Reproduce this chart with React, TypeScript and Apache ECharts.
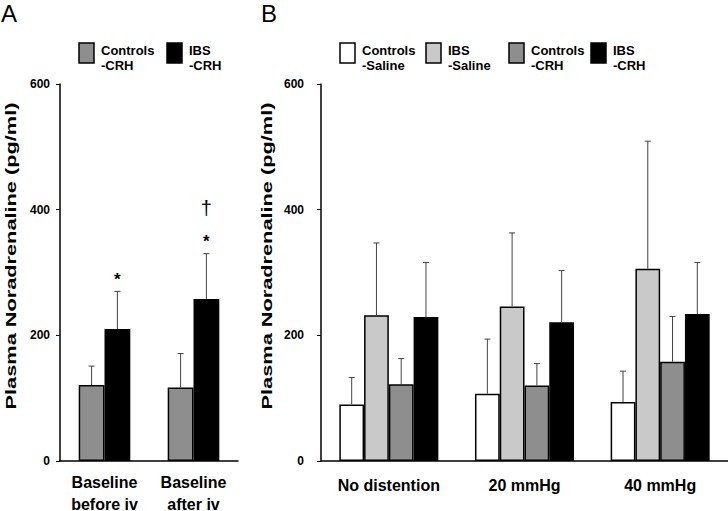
import React, { useEffect, useRef } from "react";
import * as echarts from "echarts";

// ---------- data ----------
const categoriesA = ["Baseline\nbefore iv", "Baseline\nafter iv"];
const controlsCrhA = [121, 117];
const controlsCrhAErr = [30, 54];
const ibsCrhA = [210, 258];
const ibsCrhAErr = [60, 72];
const starA = ["*", "*"];
const daggerA = ["", "†"];

const categoriesB = ["No distention", "20 mmHg", "40 mmHg"];
const controlsSalineB = [90, 107, 94];
const controlsSalineBErr = [43, 87, 49];
const ibsSalineB = [232, 246, 306];
const ibsSalineBErr = [115, 117, 203];
const controlsCrhB = [122, 120, 158];
const controlsCrhBErr = [41, 35, 72];
const ibsCrhB = [229, 221, 234];
const ibsCrhBErr = [87, 82, 82];

const yTicks = { min: 0, max: 600, interval: 200 };
const yAxisTitle = "Plasma Noradrenaline (pg/ml)";

const seriesNames = {
  cs: "Controls\n-Saline",
  is: "IBS\n-Saline",
  cc: "Controls\n-CRH",
  ic: "IBS\n-CRH",
};

// ---------- style ----------
const FONT = "'Liberation Sans', Arial, Helvetica, sans-serif";
const COLORS = { cs: "#ffffff", is: "#c9c9c9", cc: "#8e8e8e", ic: "#000000" };
const GAP_A = 0.42;
const GAP_B = 0.27;

function errSeries(
  name: string,
  xIdx: number,
  values: number[],
  errs: number[],
  k: number,
  n: number,
  gap: number,
  stars?: string[],
  daggers?: string[]
) {
  return {
    type: "custom",
    name,
    xAxisIndex: xIdx,
    yAxisIndex: xIdx,
    z: 3,
    encode: { x: 0, y: 1 },
    data: values.map((v, i) => [i, v, errs[i]]),
    renderItem: (params: any, api: any) => {
      const cat = api.value(0);
      const v = api.value(1);
      const e = api.value(2);
      const top = api.coord([cat, v + e]);
      const bot = api.coord([cat, v]);
      const bw = (api.size([1, 0])[0] * (1 - gap)) / n;
      const x = top[0] + (k - (n - 1) / 2) * bw;
      const stroke = { stroke: "#444", lineWidth: 1 };
      const children: any[] = [
        { type: "line", shape: { x1: x, y1: bot[1], x2: x, y2: top[1] }, style: stroke },
        { type: "line", shape: { x1: x - 3, y1: top[1], x2: x + 3, y2: top[1] }, style: stroke },
      ];
      const i = params.dataIndex;
      if (stars && stars[i]) {
        children.push({
          type: "text",
          x,
          y: top[1] - 12,
          style: {
            text: stars[i],
            font: `bold 17px ${FONT}`,
            fill: "#000",
            align: "center",
            verticalAlign: "middle",
          },
        });
      }
      if (daggers && daggers[i]) {
        children.push({
          type: "text",
          x,
          y: top[1] - 46,
          style: {
            text: daggers[i],
            font: `20px ${FONT}`,
            fill: "#000",
            align: "center",
            verticalAlign: "middle",
          },
        });
      }
      return { type: "group", children };
    },
  };
}

function bar(name: string, xIdx: number, data: number[], color: string, gap: number) {
  return {
    type: "bar",
    name,
    xAxisIndex: xIdx,
    yAxisIndex: xIdx,
    data,
    barGap: "0%",
    barCategoryGap: `${gap * 100}%`,
    itemStyle: { color, borderColor: "#000", borderWidth: 1.5 },
  };
}

function legendItems(items: { name: string; color: string; x: number }[]) {
  const out: any[] = [];
  items.forEach((it) => {
    out.push({
      type: "rect",
      shape: { x: it.x, y: 43, width: 15, height: 20 },
      style: { fill: it.color, stroke: "#000", lineWidth: 1.5 },
    });
    out.push({
      type: "text",
      x: it.x + 22,
      y: 43,
      style: {
        text: it.name,
        font: `bold 13px ${FONT}`,
        lineHeight: 15,
        fill: "#000",
        verticalAlign: "top",
      },
    });
  });
  return out;
}

function yTitle(x: number) {
  return {
    type: "text",
    x,
    y: 256,
    rotation: Math.PI / 2,
    scaleX: 1.45,
    style: {
      text: yAxisTitle,
      font: `bold 15px ${FONT}`,
      fill: "#000",
      align: "center",
      verticalAlign: "middle",
    },
  };
}

function yAxis(gridIndex: number, labelMargin: number) {
  return {
    type: "value",
    gridIndex,
    ...yTicks,
    axisLine: { show: true, lineStyle: { color: "#000", width: 1.5 } },
    axisTick: { show: true, length: 4, lineStyle: { color: "#000", width: 1 } },
    splitLine: { show: false },
    axisLabel: {
      fontFamily: FONT,
      fontWeight: "bold",
      fontSize: 12,
      color: "#000",
      margin: labelMargin,
    },
  };
}

function xAxis(gridIndex: number, data: string[], margin: number) {
  return {
    type: "category",
    gridIndex,
    data,
    axisLine: { show: true, lineStyle: { color: "#000", width: 1.5 } },
    axisTick: { show: false },
    axisLabel: {
      fontFamily: FONT,
      fontWeight: "bold",
      fontSize: 16,
      lineHeight: 22,
      color: "#000",
      margin,
      interval: 0,
    },
  };
}

export default function App() {
  const ref = useRef<HTMLDivElement>(null);
  useEffect(() => {
    if (!ref.current) return;
    const chart = echarts.init(ref.current, undefined, { renderer: "svg" });
    chart.setOption({
      animation: false,
      backgroundColor: "#fff",
      textStyle: { fontFamily: FONT },
      grid: [
        { left: 60, top: 84, width: 178, height: 377, outerBoundsMode: "none", containLabel: false },
        { left: 321, top: 84, width: 407, height: 377, outerBoundsMode: "none", containLabel: false },
      ],
      xAxis: [xAxis(0, categoriesA, 10), xAxis(1, categoriesB, 13)],
      yAxis: [yAxis(0, 10), yAxis(1, 17)],
      graphic: [
        {
          type: "text",
          x: 1,
          y: 1,
          style: { text: "A", font: `24px ${FONT}`, fill: "#000", verticalAlign: "top" },
        },
        {
          type: "text",
          x: 261,
          y: 1,
          style: { text: "B", font: `24px ${FONT}`, fill: "#000", verticalAlign: "top" },
        },
        yTitle(11),
        yTitle(267),
        ...legendItems([
          { name: seriesNames.cc, color: COLORS.cc, x: 79 },
          { name: seriesNames.ic, color: COLORS.ic, x: 167 },
        ]),
        ...legendItems([
          { name: seriesNames.cs, color: COLORS.cs, x: 340 },
          { name: seriesNames.is, color: COLORS.is, x: 426 },
          { name: seriesNames.cc, color: COLORS.cc, x: 509 },
          { name: seriesNames.ic, color: COLORS.ic, x: 591 },
        ]),
      ],
      series: [
        bar(seriesNames.cc, 0, controlsCrhA, COLORS.cc, GAP_A),
        bar(seriesNames.ic, 0, ibsCrhA, COLORS.ic, GAP_A),
        errSeries("err-a-cc", 0, controlsCrhA, controlsCrhAErr, 0, 2, GAP_A),
        errSeries("err-a-ic", 0, ibsCrhA, ibsCrhAErr, 1, 2, GAP_A, starA, daggerA),
        bar(seriesNames.cs, 1, controlsSalineB, COLORS.cs, GAP_B),
        bar(seriesNames.is, 1, ibsSalineB, COLORS.is, GAP_B),
        bar(seriesNames.cc, 1, controlsCrhB, COLORS.cc, GAP_B),
        bar(seriesNames.ic, 1, ibsCrhB, COLORS.ic, GAP_B),
        errSeries("err-b-cs", 1, controlsSalineB, controlsSalineBErr, 0, 4, GAP_B),
        errSeries("err-b-is", 1, ibsSalineB, ibsSalineBErr, 1, 4, GAP_B),
        errSeries("err-b-cc", 1, controlsCrhB, controlsCrhBErr, 2, 4, GAP_B),
        errSeries("err-b-ic", 1, ibsCrhB, ibsCrhBErr, 3, 4, GAP_B),
      ],
    });
    return () => chart.dispose();
  }, []);
  return (
    <div
      ref={ref}
      style={{ position: "fixed", left: 0, top: 0, width: 728, height: 511, background: "#fff" }}
    />
  );
}
